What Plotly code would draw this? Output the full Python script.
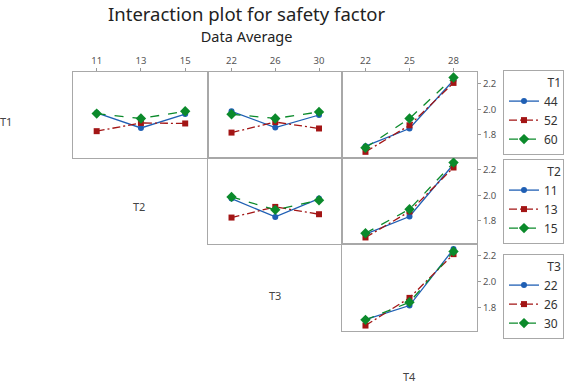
import plotly.graph_objects as go

# ---- data ----
T1_levels = ["44", "52", "60"]
T2_levels = ["11", "13", "15"]
T3_levels = ["22", "26", "30"]
T2_x = [11, 13, 15]
T3_x = [22, 26, 30]
T4_x = [22, 25, 28]

# row 1: lines = T1
T1_by_T2 = {"44": [1.971, 1.854, 1.962], "52": [1.829, 1.893, 1.889], "60": [1.966, 1.928, 1.984]}
T1_by_T3 = {"44": [1.984, 1.857, 1.955], "52": [1.818, 1.900, 1.850], "60": [1.961, 1.928, 1.979]}
T1_by_T4 = {"44": [1.712, 1.850, 2.226], "52": [1.668, 1.875, 2.205], "60": [1.700, 1.928, 2.247]}
# row 2: lines = T2
T2_by_T3 = {"11": [1.974, 1.831, 1.974], "13": [1.826, 1.909, 1.852], "15": [1.987, 1.886, 1.961]}
T2_by_T4 = {"11": [1.697, 1.834, 2.241], "13": [1.671, 1.873, 2.216], "15": [1.704, 1.891, 2.254]}
# row 3: lines = T3
T3_by_T4 = {"22": [1.707, 1.816, 2.251], "26": [1.662, 1.875, 2.212], "30": [1.706, 1.841, 2.233]}

W, H = 570, 385
def px(x): return x / W
def py(y): return 1 - y / H

colors = ["#1f5fb4", "#a31515", "#0b8a2b"]
dashes = ["solid", "8px,3px,2px,3px", "dash"]
symbols = ["circle", "square", "diamond"]
msizes = [6, 6, 8]

cols = [(73, 208), (208, 342), (342, 477)]
rows = [(72, 158), (158, 244), (244, 331)]
YR = [1.62, 2.29]

fig = go.Figure()

panels = [
    # (row, col, xvals, dict, levels, xrange, legend)
    (0, 0, T2_x, T1_by_T2, T1_levels, [9.93, 16.03], None),
    (0, 1, T3_x, T1_by_T3, T1_levels, [19.85, 32.1], None),
    (0, 2, T4_x, T1_by_T4, T1_levels, [20.4, 29.6], "legend"),
    (1, 1, T3_x, T2_by_T3, T2_levels, [19.85, 32.1], None),
    (1, 2, T4_x, T2_by_T4, T2_levels, [20.4, 29.6], "legend2"),
    (2, 2, T4_x, T3_by_T4, T3_levels, [20.4, 29.6], "legend3"),
]

tickfont = dict(size=9.5, color="#555555")
for i, (r, c, xv, d, levels, xr, leg) in enumerate(panels):
    n = i + 1
    xa = "x" if n == 1 else f"x{n}"
    ya = "y" if n == 1 else f"y{n}"
    for k, lv in enumerate(levels):
        tr = dict(
            x=xv, y=d[lv], mode="lines+markers", name=lv,
            line=dict(color=colors[k], dash=dashes[k], width=1.3),
            marker=dict(color=colors[k], symbol=symbols[k], size=msizes[k]),
            xaxis=xa, yaxis=ya, showlegend=leg is not None,
        )
        if leg is not None:
            tr["legend"] = leg
        fig.add_trace(go.Scatter(**tr))
    xkey = "xaxis" if n == 1 else f"xaxis{n}"
    ykey = "yaxis" if n == 1 else f"yaxis{n}"
    top = (r == 0)
    right = (c == 2)
    fig.update_layout(**{
        xkey: dict(domain=[px(cols[c][0]), px(cols[c][1])], range=xr, anchor=ya,
                   side="top", tickvals=xv, showticklabels=top,
                   ticks="outside" if top else "", ticklen=3, tickcolor="#999999",
                   tickfont=tickfont, showgrid=False, zeroline=False,
                   showline=True, mirror=True, linecolor="#a8a8a8", linewidth=1),
        ykey: dict(domain=[py(rows[r][1]), py(rows[r][0])], range=YR, anchor=xa,
                   side="right", tickvals=[1.8, 2.0, 2.2], ticktext=["1.8", "2.0", "2.2"],
                   showticklabels=right, ticks="outside" if right else "", ticklen=3,
                   tickcolor="#999999", tickfont=tickfont, showgrid=False, zeroline=False,
                   showline=True, mirror=True, linecolor="#a8a8a8", linewidth=1),
    })

legfont = dict(size=12, color="#333333")
def legbox(title, ytop):
    return dict(title=dict(text=title, side="top right", font=legfont),
                x=px(503), y=py(ytop), xanchor="left", yanchor="top",
                bordercolor="#a8a8a8", borderwidth=1, bgcolor="white",
                font=legfont, tracegroupgap=0, itemwidth=30)

fig.update_layout(
    width=W, height=H,
    margin=dict(l=0, r=0, t=0, b=0),
    paper_bgcolor="white", plot_bgcolor="white",
    font=dict(family="Noto Sans, DejaVu Sans, sans-serif", color="#222222"),
    legend=legbox("T1", 70),
    legend2=legbox("T2", 159),
    legend3=legbox("T3", 254),
)

title_text = ("<span style='font-size:18.5px'>Interaction plot for safety factor</span>"
              "<br><span style='font-size:14.5px'>Data Average</span>")
fig.add_annotation(text=title_text, x=px(247), y=py(0), xref="paper", yref="paper",
                   showarrow=False, xanchor="center", yanchor="top", align="center",
                   borderpad=0, font=dict(size=16, color="#222222"))

labels = [("T1", 6, 121), ("T2", 139, 207), ("T3", 275, 295), ("T4", 409, 376)]
for t, x, y in labels:
    fig.add_annotation(text=t, x=px(x), y=py(y), xref="paper", yref="paper",
                       showarrow=False, xanchor="center", yanchor="middle", borderpad=0,
                       font=dict(size=11, color="#444444"))

fig.write_html("out.html", config={"displayModeBar": False},
               post_script="document.body.style.margin='0px';")
